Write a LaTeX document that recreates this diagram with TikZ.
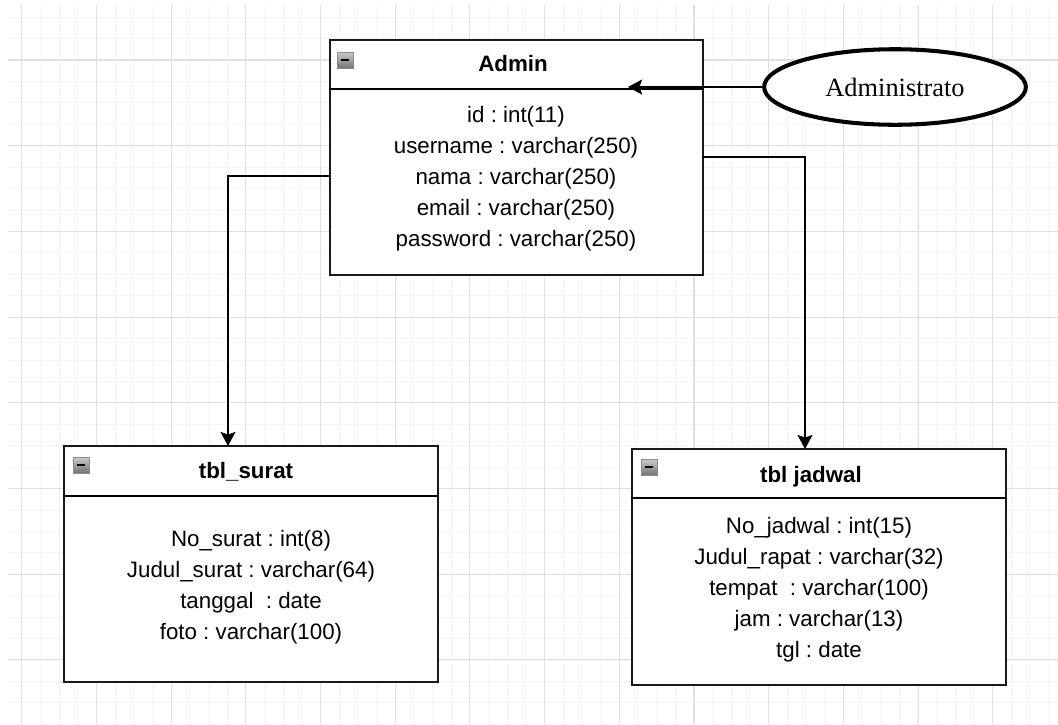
\documentclass[tikz,border=0pt]{standalone}
\usepackage{fontspec}
\setmainfont{Liberation Serif}
\setsansfont{Liberation Sans}
\usetikzlibrary{arrows.meta,fit,shapes.geometric}
\definecolor{minorgrid}{HTML}{F4F4F4}
\definecolor{majorgrid}{HTML}{DFDFDF}
\tikzset{
	tablebox/.style={draw=black!90, line width=1.1pt, fill=white, inner sep=0pt},
	fieldtext/.style={font=\sffamily\fontsize{12.7}{17.6}\selectfont, align=center},
	titletext/.style={font=\sffamily\bfseries\fontsize{12.7}{15}\selectfont},
	actorbox/.style={ellipse, draw, line width=2.3pt, fill=white, minimum width=149pt, minimum height=43pt, font=\rmfamily\fontsize{15}{18}\selectfont},
	conn/.style={line width=1.1pt, -{Stealth[length=8pt, width=8.5pt, inset=1.5pt]}},
	minusicon/.style={draw=black!45, top color=black!20, bottom color=black!55, line width=0.5pt}
}
\newcommand{\minusbox}[2]{%
	\draw[minusicon] (#1,#2) rectangle ++(16,16);
	\draw[line width=1.2pt] (#1+4,#2+8) -- ++(8,0);
}
\frenchspacing

\begin{document}
\begin{tikzpicture}[x=0.02cm, y=-0.02cm]
			%%%%% START %%%%%
			\useasboundingbox (0,0) rectangle (1058,724);
			
			% grid
			\foreach \i in {0,...,55} {\draw[minorgrid, line width=0.5pt] ({21.7+18.67*\i},5) -- ++(0,719);}
			\foreach \j in {0,...,32} {\draw[minorgrid, line width=0.5pt] (8,{17.1+21.43*\j}) -- (1058,{17.1+21.43*\j});}
			\foreach \i in {0,...,13} {\draw[majorgrid, line width=0.6pt] ({21.7+74.7*\i},5) -- ++(0,719);}
			\foreach \j in {0,...,7} {\draw[majorgrid, line width=0.6pt] (8,{60+85.7*\j}) -- (1058,{60+85.7*\j});}
			
			% Admin
			\node[tablebox, fit={(330,40) (703,275)}] (admin) {};
			\draw[line width=1.1pt] (admin.west |- 0,89) -- (admin.east |- 0,89);
			\minusbox{337}{52}
			\node[titletext] (admintitle) at (513,64) {Admin};
			\node[fieldtext] (adminfields) at (516,179) {id : int(11)\\ username : varchar(250)\\ nama : varchar(250)\\ email : varchar(250)\\ password : varchar(250)};
			
			% tbl_surat
			\node[tablebox, fit={(64,446) (438,682)}] (surat) {};
			\draw[line width=1.1pt] (surat.west |- 0,496) -- (surat.east |- 0,496);
			\minusbox{73}{457}
			\node[titletext] (surattitle) at (246,472) {tbl\_surat};
			\node[fieldtext] (suratfields) at (251,587) {No\_surat : int(8)\\ Judul\_surat : varchar(64)\\ tanggal~ : date\\ foto : varchar(100)};
			
			% tbl jadwal
			\node[tablebox, fit={(632,449) (1006,685)}] (jadwal) {};
			\draw[line width=1.1pt] (jadwal.west |- 0,498) -- (jadwal.east |- 0,498);
			\minusbox{641}{459}
			\node[titletext] (jadwaltitle) at (811,477) {tbl jadwal};
			\node[fieldtext] (jadwalfields) at (819,590) {No\_jadwal : int(15)\\ Judul\_rapat : varchar(32)\\ tempat~ : varchar(100)\\ jam : varchar(13)\\ tgl : date};
			
			% actor
			\node[actorbox] (actor) at (895,87) {Administrato};
			
			% connectors
			\coordinate (adminL) at (330,176);
			\coordinate (suratIn) at (228,446);
			\coordinate (adminR) at (703,157);
			\coordinate (jadwalIn) at (805,449);
			\coordinate (adminIn) at (628,87);
			\draw[conn] (adminL) -| (suratIn);
			\draw[conn] (adminR) -| (jadwalIn);
			\draw[conn] (actor.west) -- (adminIn);
			%%%%% END %%%%%
\end{tikzpicture}
\end{document}
